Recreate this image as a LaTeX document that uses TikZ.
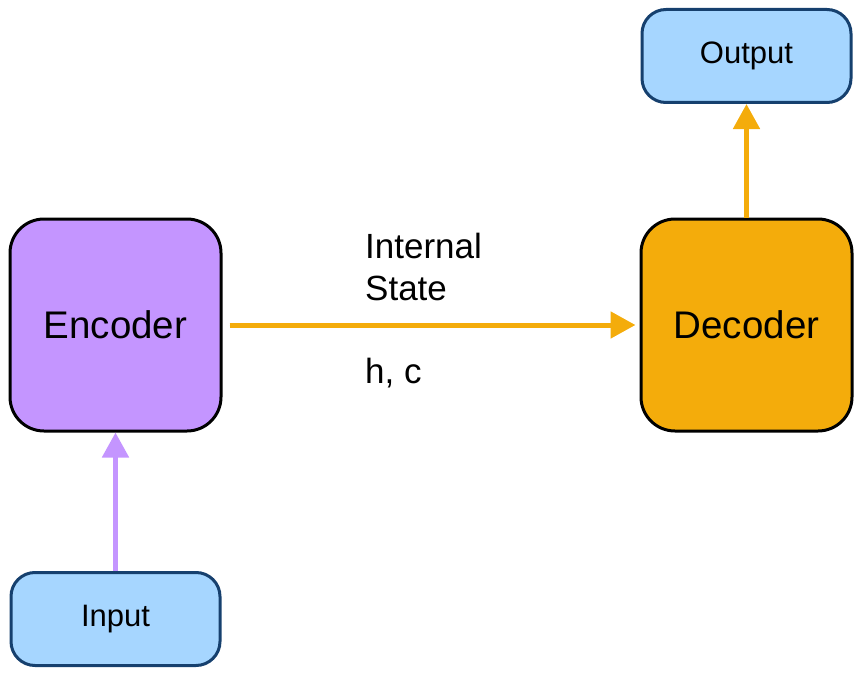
\documentclass[tikz,border=0pt]{standalone}
\usepackage{fontspec}
\setmainfont{Liberation Sans}
\usetikzlibrary{arrows.meta}
\definecolor{encfill}{RGB}{196,149,255}
\definecolor{decfill}{RGB}{244,172,11}
\definecolor{iofill}{RGB}{166,214,255}
\definecolor{iodraw}{RGB}{22,64,110}
\tikzset{
  bigbox/.style={draw=black, line width=3pt, rounded corners=34pt, minimum width=211pt, minimum height=212pt, inner sep=0pt, font=\fontsize{38.5}{42}\selectfont},
  iobox/.style={draw=iodraw, fill=iofill, line width=3pt, rounded corners=24pt, minimum width=209pt, minimum height=93pt, inner sep=0pt, font=\fontsize{31}{35}\selectfont},
  conn/.style={line width=5pt, -{Triangle[length=25pt,width=26pt]}},
  lbl/.style={anchor=west, inner sep=0pt, align=left, font=\fontsize{35}{42}\selectfont}
}
\begin{document}
\begin{tikzpicture}[x=1pt,y=-1pt]
\useasboundingbox (0,0) rectangle (863,685);
\node[bigbox, fill=encfill] (enc) at (115.5,325) {Encoder};
\node[bigbox, fill=decfill] (dec) at (746.5,325) {Decoder};
\node[iobox] (out) at (746.5,56) {Output};
\node[iobox] (in) at (115.5,619) {Input};
\draw[conn, draw=encfill, fill=encfill] (in.north) -- (enc.south);
\draw[conn, draw=decfill, fill=decfill, shorten <=7pt, shorten >=4pt] (enc.east) -- (dec.west);
\draw[conn, draw=decfill, fill=decfill] (dec.north) -- (out.south);
\node[lbl] (st) at (365,267) {Internal\\State};
\node[lbl] (hc) at (365,373) {h, c};
\end{tikzpicture}
\end{document}
